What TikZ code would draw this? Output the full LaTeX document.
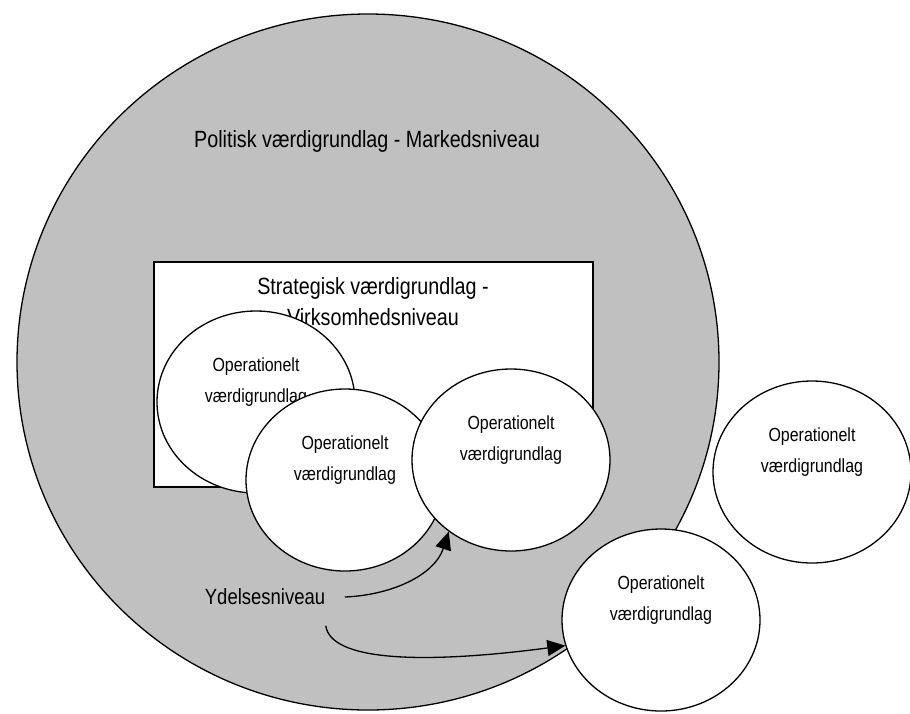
\documentclass[tikz,border=0pt]{standalone}
\usepackage{fontspec}
\setmainfont{Liberation Sans}[FakeStretch=0.84]
\usetikzlibrary{shapes.geometric,arrows.meta}
\definecolor{markedgray}{RGB}{192,192,192}

\begin{document}
\begin{tikzpicture}[x=1pt, y=-1pt, line width=1.3pt,
		opcirc/.style={ellipse, draw, fill=white, inner sep=0pt, minimum width=198pt, minimum height=182pt},
		optext/.style={align=center, inner sep=0pt, font=\fontsize{19}{31}\selectfont},
		bigtext/.style={align=center, inner sep=0pt, font=\fontsize{23.5}{31}\selectfont},
		yarrow/.style={-{Triangle[length=18pt,width=16pt]}}]
		\useasboundingbox (0,0) rectangle (910,713);
		% Markedsniveau
		\filldraw[fill=markedgray] (368,362) ellipse [x radius=351, y radius=348];
		\node[bigtext] (pol) at (367,141) {Politisk værdigrundlag - Markedsniveau};
		% Virksomhedsniveau
		\filldraw[fill=white] (154,262) rectangle (593,487);
		\node[bigtext] (strat) at (373,302) {Strategisk værdigrundlag -\\Virksomhedsniveau};
		% Operationelle vaerdigrundlag
		\node[opcirc] (op1) at (256,402) {};
		\node[optext] (op1txt) at ([yshift=20pt]op1.center) {Operationelt\\værdigrundlag};
		\node[opcirc] (op2) at (345,480) {};
		\node[optext] (op2txt) at ([yshift=20pt]op2.center) {Operationelt\\værdigrundlag};
		\node[opcirc] (op3) at (511,460) {};
		\node[optext] (op3txt) at ([yshift=20pt]op3.center) {Operationelt\\værdigrundlag};
		\node[opcirc] (op4) at (812,472) {};
		\node[optext] (op4txt) at ([yshift=20pt]op4.center) {Operationelt\\værdigrundlag};
		\node[opcirc] (op5) at (661,620) {};
		\node[optext] (op5txt) at ([yshift=20pt]op5.center) {Operationelt\\værdigrundlag};
		% Ydelsesniveau
		\node[inner sep=0pt, font=\fontsize{22}{26}\selectfont] (yd) at (265,597) {Ydelsesniveau};
		\draw[yarrow] ([xshift=19pt]yd.east) .. controls +(48,-2) and +(-14,43) .. (op3.229);
		\draw[yarrow] ([yshift=-20pt]yd.south east) .. controls +(5,35) and +(-145,19) .. (op5.195);
	\end{tikzpicture}
\end{document}
